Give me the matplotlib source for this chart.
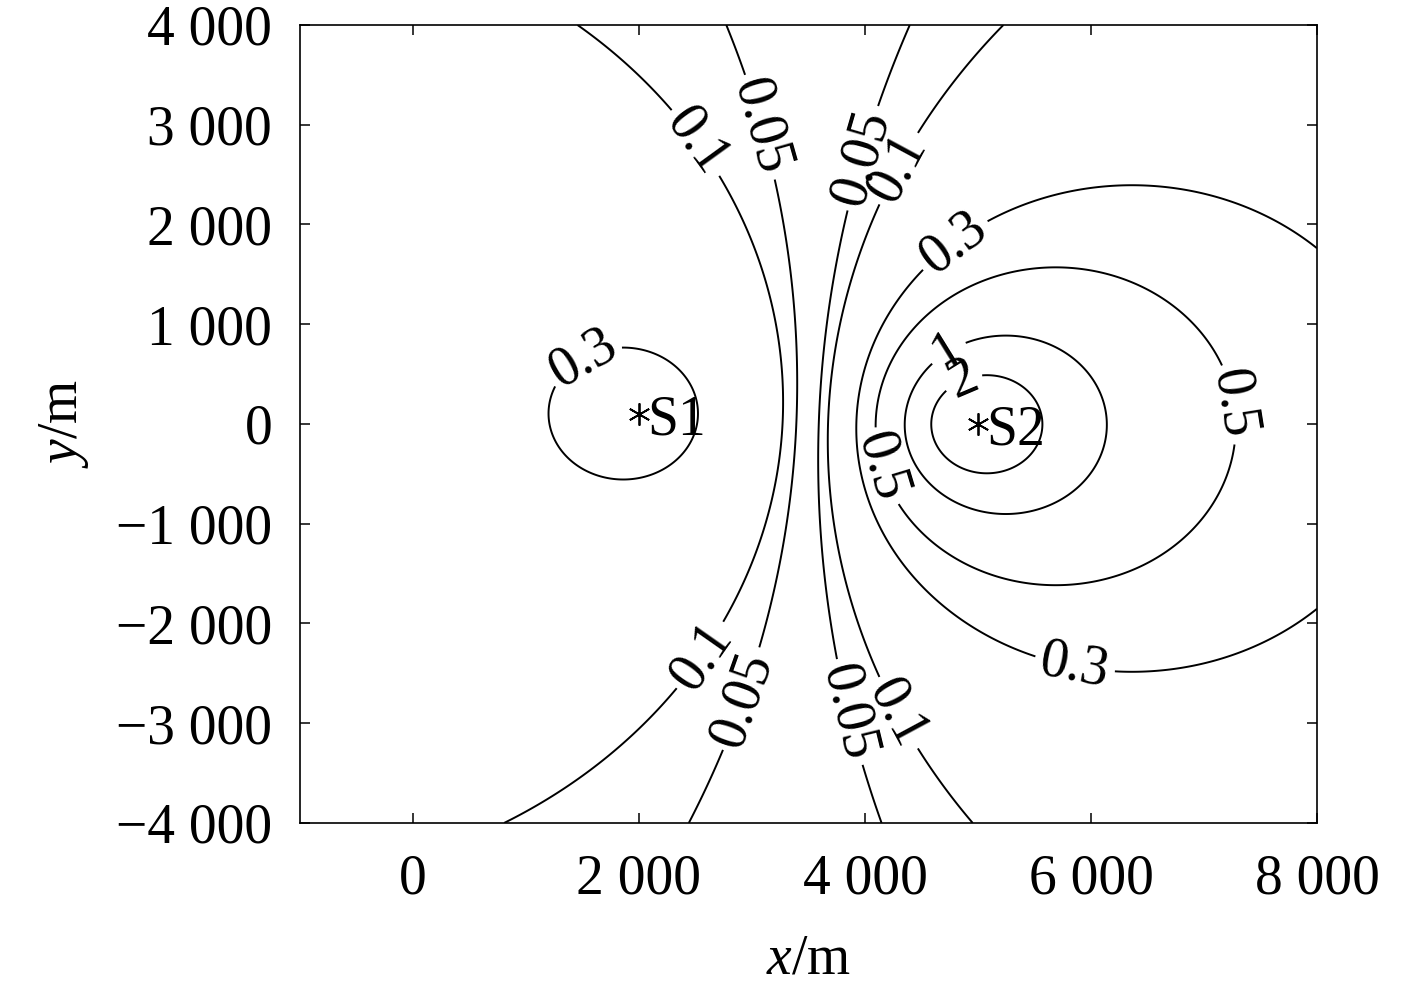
import numpy as np
import matplotlib.pyplot as plt

plt.rcParams['font.family'] = ['Liberation Serif', 'DejaVu Serif']
plt.rcParams['mathtext.fontset'] = 'custom'
plt.rcParams['mathtext.rm'] = 'Liberation Serif'
plt.rcParams['mathtext.it'] = 'Liberation Serif:italic'

# sources (m)
src_names = ['S1', 'S2']
src_x = [2000, 5000]
src_y = [100, 0]
field_scale = 0.38   # value at S1

levels = [0.05, 0.1, 0.3, 0.5, 1, 2]
xticks = [0, 2000, 4000, 6000, 8000]
yticks = [-4000, -3000, -2000, -1000, 0, 1000, 2000, 3000, 4000]

# where the contour labels sit (data coords)
label_pos = [(2540, 2850), (3044, 2967), (3973, 2667), (4354, 2526),
             (4796, 1794), (1566, 541), (4752, 692), (4885, 391),
             (4159, -431), (7212, 190), (5858, -2416), (2540, -2316),
             (2938, -2767), (3867, -2887), (4310, -2887)]


def fmt_thousands(v):
    return f'{v:,}'.replace(',', ' ').replace('-', '\u2212')


x = np.linspace(-1000, 8000, 1801)
y = np.linspace(-4000, 4000, 1601)
X, Y = np.meshgrid(x, y)
r1 = np.hypot(X - src_x[0], Y - src_y[0])
r2 = np.hypot(X - src_x[1], Y - src_y[1])
with np.errstate(divide='ignore', invalid='ignore'):
    Z = field_scale * np.abs(r1 / r2 - 1)
Z = np.nan_to_num(np.minimum(Z, 20), nan=20, posinf=20)

fig = plt.figure(figsize=(14.17, 9.92), dpi=100)
ax = fig.add_axes([0.2117, 0.1704, 0.7177, 0.8044])

cs = ax.contour(X, Y, Z, levels=levels, colors='k', linewidths=1.4)
ax.clabel(cs, fmt=lambda v: f'{v:g}', fontsize=40, inline=True,
          inline_spacing=6, manual=label_pos)

ax.plot(src_x, src_y, ls='none', marker=(6, 2, 0), ms=16, mew=1.3, color='k')
for name, sx, sy in zip(src_names, src_x, src_y):
    ax.annotate(name, (sx, sy), xytext=(6, -15), textcoords='offset points',
                fontsize=40, ha='left', va='baseline')

ax.set_xlim(-1000, 8000)
ax.set_ylim(-4000, 4000)
ax.set_xticks(xticks, [fmt_thousands(v) for v in xticks])
ax.set_yticks(yticks, [fmt_thousands(v) for v in yticks])
ax.tick_params(direction='in', top=True, right=True, length=7, width=1.1,
               labelsize=40)
ax.tick_params(axis='x', pad=22)
ax.tick_params(axis='y', pad=20)
for s in ax.spines.values():
    s.set_linewidth(1.2)

ax.set_xlabel(r'$x$/m', fontsize=40, labelpad=20)
ax.set_ylabel(r'$y$/m', fontsize=40, labelpad=18)

fig.savefig('out.png', dpi=100)
